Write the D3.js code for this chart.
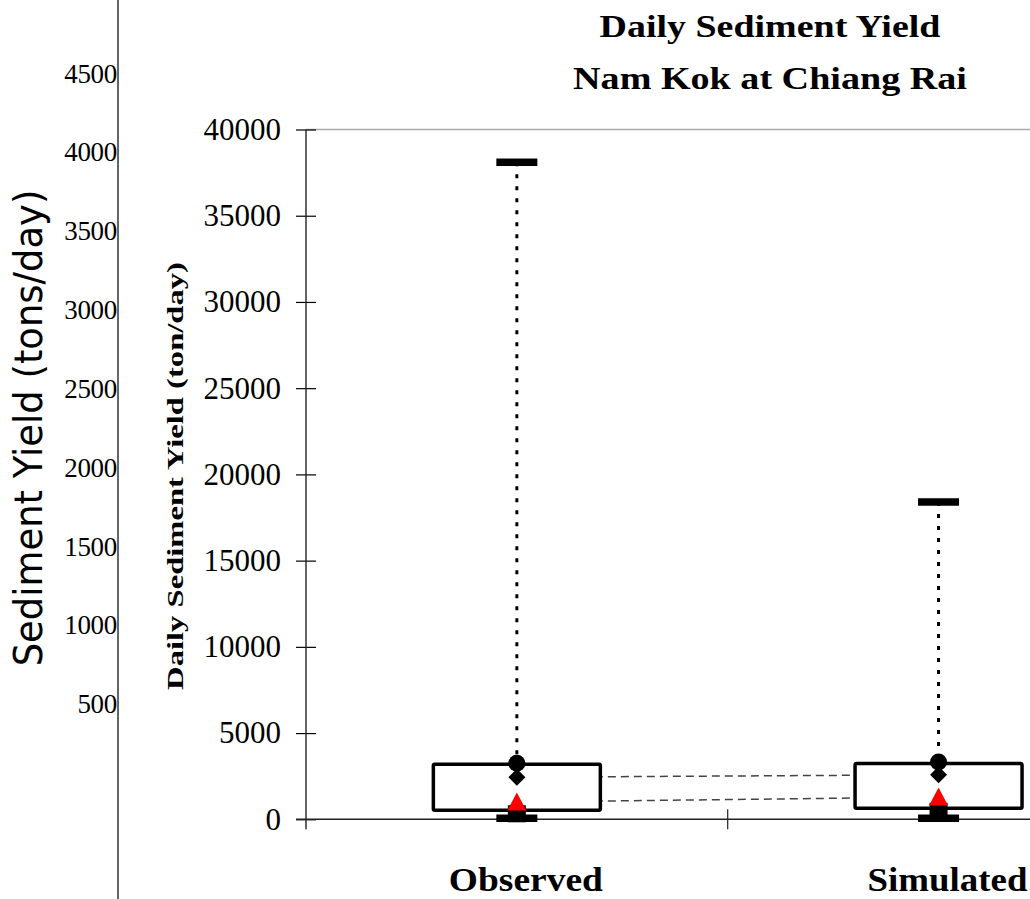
<!DOCTYPE html>
<html>
<head>
<meta charset="utf-8">
<script src="https://cdn.jsdelivr.net/npm/d3@7"></script>
<style>
  html, body { margin: 0; padding: 0; background: #fff; }
  svg { display: block; }
</style>
</head>
<body>
<svg id="chart" width="1030" height="899"></svg>
<script>
// ---------- data ----------
const categories = ["Observed", "Simulated"];
const maxVals      = [38100, 18400];
const minVals      = [60, 60];
const q3Vals       = [3190, 3230];
const q1Vals       = [520, 640];
const circleVals   = [3250, 3320];
const diamondVals  = [2440, 2580];
const triangleVals = [1000, 1290];
const squareVals   = [320, 460];
const mainTicks = [0, 5000, 10000, 15000, 20000, 25000, 30000, 35000, 40000];
const leftTicks = [500, 1000, 1500, 2000, 2500, 3000, 3500, 4000, 4500];

const svg = d3.select("#chart");
const serif = "'Liberation Serif', 'Times New Roman', serif";

// place a text centred at (px,py), rotated by rot, stretched along its run to a target length
function fitText(str, px, py, rot, target, font, size, weight) {
  const t = svg.append("text")
    .attr("text-anchor", "middle")
    .attr("font-family", font).attr("font-size", size).attr("font-weight", weight)
    .attr("fill", "#000")
    .text(str);
  const w = t.node().getComputedTextLength();
  const k = target / w;
  t.attr("transform", `translate(${px},${py}) rotate(${rot}) scale(${k},1)`);
  return t;
}

// ---------- leftover left axis ----------
const yLeft = d3.scaleLinear().domain([0, 4500]).range([782.8, 73.5]);
svg.append("line").attr("x1", 118).attr("x2", 118).attr("y1", 0).attr("y2", 899)
  .attr("stroke", "#333").attr("stroke-width", 1.5);
svg.append("g").selectAll("text").data(leftTicks).join("text")
  .attr("x", 117).attr("y", d => yLeft(d))
  .attr("dy", "0.34em")
  .attr("text-anchor", "end")
  .attr("font-family", serif).attr("font-size", 27)
  .attr("letter-spacing", -0.3)
  .text(d => d);
fitText("Sediment Yield (tons/day)", 42, 428, -90, 477, "'DejaVu Sans', sans-serif", 39, "normal");

// ---------- main chart scales ----------
const x = d3.scaleBand().domain(categories).range([306, 1149.4]).padding(0);
const y = d3.scaleLinear().domain([0, 40000]).range([819.3, 129.5]);
const bw = x.bandwidth();
const cx = i => x(categories[i]) + bw / 2;

// top border of plot area
svg.append("line").attr("x1", 306).attr("x2", 1030).attr("y1", y(40000)).attr("y2", y(40000))
  .attr("stroke", "#aaa").attr("stroke-width", 1.5);

// y axis
const yAxis = svg.append("g").attr("transform", "translate(306,0)")
  .call(d3.axisLeft(y).tickValues(mainTicks).tickFormat(d3.format("d"))
    .tickSize(10).tickSizeOuter(0).tickPadding(15));
yAxis.select(".domain").remove();
yAxis.selectAll(".tick line").attr("x1", 10).attr("stroke", "#000").attr("stroke-width", 1.2);
yAxis.selectAll(".tick text").attr("font-family", serif).attr("font-size", 31).attr("fill", "#000");
svg.append("line").attr("x1", 306).attr("x2", 306).attr("y1", y(40000)).attr("y2", y(0) + 10)
  .attr("stroke", "#222").attr("stroke-width", 1.4);

// x axis
svg.append("line").attr("x1", 296).attr("x2", 1030).attr("y1", y(0)).attr("y2", y(0))
  .attr("stroke", "#222").attr("stroke-width", 1.4);
svg.append("g").selectAll("line").data(categories.slice(1)).join("line")
  .attr("x1", d => x(d)).attr("x2", d => x(d))
  .attr("y1", y(0) - 10).attr("y2", y(0) + 10)
  .attr("stroke", "#222").attr("stroke-width", 1.2);
const labelWidths = [154, 160];
const xAxis = svg.append("g").attr("transform", `translate(9,${y(0)})`)
  .call(d3.axisBottom(x).tickSize(0).tickPadding(48));
xAxis.select(".domain").remove();
xAxis.selectAll(".tick text").attr("font-family", serif).attr("font-size", 34)
  .attr("font-weight", "bold").attr("fill", "#000")
  .each(function (d, i) {
    const el = d3.select(this);
    const w = this.getComputedTextLength();
    const k = labelWidths[i] / w;
    const yy = +el.attr("y");
    el.attr("y", null).attr("transform", `translate(0,${yy}) scale(${k},1)`);
  });

// y axis title
fitText("Daily Sediment Yield (ton/day)", 183, 476, -90, 428, serif, 24, "bold");

// title
fitText("Daily Sediment Yield", 770, 37, 0, 341, serif, 31, "bold");
fitText("Nam Kok at Chiang Rai", 770, 89, 0, 394, serif, 31, "bold");

// ---------- connectors (dashed) ----------
const line = d3.line().x((d, i) => cx(i)).y(d => y(d));
[diamondVals, triangleVals].forEach(vals => {
  svg.append("path").attr("d", line(vals))
    .attr("fill", "none").attr("stroke", "#444").attr("stroke-width", 1.5)
    .attr("stroke-dasharray", "8,5");
});

// ---------- whiskers ----------
const idx = d3.range(categories.length);
svg.append("g").selectAll("line").data(idx).join("line")
  .attr("x1", cx).attr("x2", cx)
  .attr("y1", i => y(maxVals[i])).attr("y2", i => y(minVals[i]))
  .attr("stroke", "#000").attr("stroke-width", 3).attr("stroke-dasharray", "4,8");

// ---------- boxes ----------
const boxW = bw * 0.396;
svg.append("g").selectAll("rect").data(idx).join("rect")
  .attr("x", i => cx(i) - boxW / 2).attr("width", boxW)
  .attr("y", i => y(q3Vals[i])).attr("height", i => y(q1Vals[i]) - y(q3Vals[i]))
  .attr("fill", "#fff").attr("stroke", "#000").attr("stroke-width", 3.5)
  .attr("rx", 1.5).attr("stroke-linejoin", "round");

// ---------- markers ----------
// square
svg.append("g").selectAll("rect").data(idx).join("rect")
  .attr("x", i => cx(i) - 9).attr("width", 18)
  .attr("y", i => y(squareVals[i]) - 8.5).attr("height", 17)
  .attr("fill", "#000");
// triangle
svg.append("g").selectAll("path").data(idx).join("path")
  .attr("d", i => {
    const c = cx(i), m = y(triangleVals[i]);
    return `M${c},${m - 9.5}L${c + 9.5},${m + 8.5}L${c - 9.5},${m + 8.5}Z`;
  })
  .attr("fill", "#ff0000");
// diamond
svg.append("g").selectAll("path").data(idx).join("path")
  .attr("d", i => {
    const c = cx(i), m = y(diamondVals[i]);
    return `M${c},${m - 8.5}L${c + 8.5},${m}L${c},${m + 8.5}L${c - 8.5},${m}Z`;
  })
  .attr("fill", "#000");
// circle
svg.append("g").selectAll("circle").data(idx).join("circle")
  .attr("cx", cx).attr("cy", i => y(circleVals[i])).attr("r", 8.5)
  .attr("fill", "#000");
// caps
const capW = 41, capH = 7.5;
[maxVals, minVals].forEach(vals => {
  svg.append("g").selectAll("rect").data(idx).join("rect")
    .attr("x", i => cx(i) - capW / 2).attr("width", capW)
    .attr("y", i => y(vals[i]) - capH / 2).attr("height", capH)
    .attr("fill", "#000");
});
</script>
</body>
</html>
